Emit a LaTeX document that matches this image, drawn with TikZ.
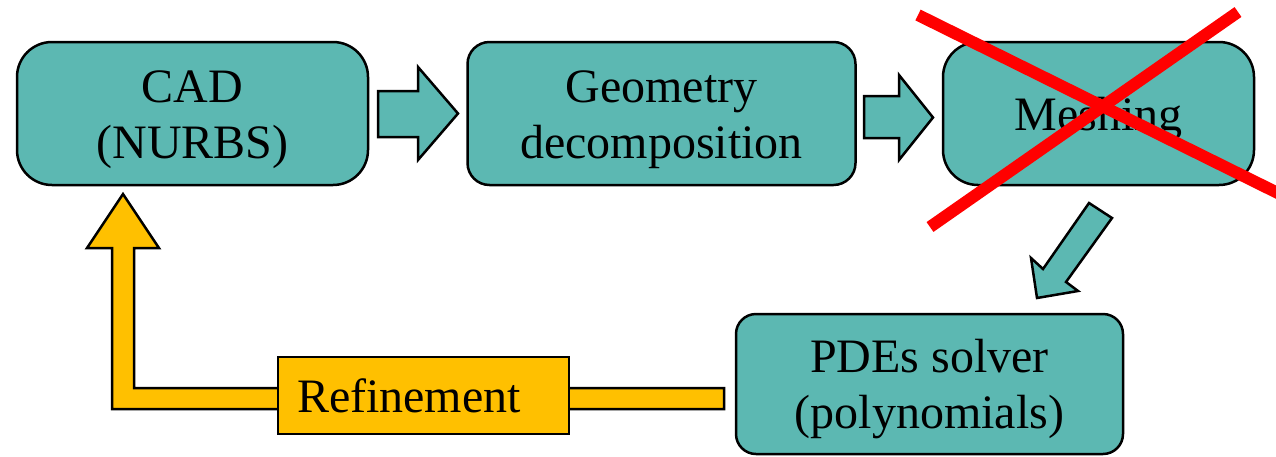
\documentclass[tikz,border=0pt]{standalone}
\usepackage{fontspec}
\setmainfont{Liberation Serif}
\definecolor{boxteal}{RGB}{92,184,178}
\definecolor{refyellow}{RGB}{255,192,0}
\definecolor{crossred}{RGB}{255,0,0}
\tikzset{
  stagebox/.style={draw=black, line width=2.5pt, fill=boxteal, inner sep=0pt,
    align=center, font=\fontsize{48}{56}\selectfont},
  blockarrow/.style={draw=black, line width=2.5pt, fill=boxteal, line join=miter},
  looparrow/.style={draw=black, line width=2.5pt, fill=refyellow, line join=miter},
  crossline/.style={draw=crossred, line width=12pt, line cap=butt}
}
\begin{document}
\begin{tikzpicture}[x=1pt, y=-1pt]
\useasboundingbox (0,0) rectangle (1276,456);

% yellow feedback arrow (behind the refinement box)
\coordinate (loopend) at (724,398.5);
\draw[looparrow] (loopend) ++(0,-10.5) -- (134,388) -- (134,248) -- (159,248) -- (123,194)
  -- (87,248) -- (112,248) -- (112,409) -- (724,409) -- cycle;

% stage boxes
\node[stagebox, minimum width=351pt, minimum height=143pt, rounded corners=35pt,
  text height=96pt, text depth=7pt] (cad) at (192.5,113.5) {CAD\\(NURBS)};
\node[stagebox, minimum width=388pt, minimum height=143pt, rounded corners=22pt,
  text height=96pt, text depth=7pt] (geo) at (661.5,113.5) {Geometry\\decomposition};
\node[stagebox, minimum width=311pt, minimum height=143pt, rounded corners=35pt,
  text height=40pt, text depth=5.6pt] (mesh) at (1098.5,113.5) {Meshing};
\node[stagebox, minimum width=387pt, minimum height=140pt, rounded corners=20pt,
  text height=95pt, text depth=7pt] (pde) at (929.5,384) {PDEs solver\\(polynomials)};
\node[draw=black, line width=1.5pt, fill=refyellow, inner xsep=19pt, inner ysep=0pt,
  text width=253pt, align=left, minimum height=77pt, text height=40pt, text depth=7pt,
  font=\fontsize{48}{56}\selectfont] (ref) at (423.5,395.5) {Refinement};

% block arrows between stages
\draw[blockarrow] (378,91) -- (418,91) -- (418,67) -- (458,113.5) -- (418,160) -- (418,137) -- (378,137) -- cycle;
\draw[blockarrow] (864,96) -- (899,96) -- (899,75) -- (933,117.5) -- (899,160) -- (899,138) -- (864,138) -- cycle;
\draw[blockarrow] (1089,203) -- (1112,218) -- (1066,282) -- (1078,291) -- (1037,298) -- (1031,258) -- (1043,269) -- cycle;

% red cross over meshing
\begin{scope}
\clip (0,0) rectangle (1276,456);
\coordinate (xa1) at (918,15);
\coordinate (xa2) at (1300,204);
\coordinate (xb1) at (1238,12);
\coordinate (xb2) at (930,227);
\draw[crossline] (xa1) -- (xa2);
\draw[crossline] (xb1) -- (xb2);
\end{scope}
\end{tikzpicture}
\end{document}
